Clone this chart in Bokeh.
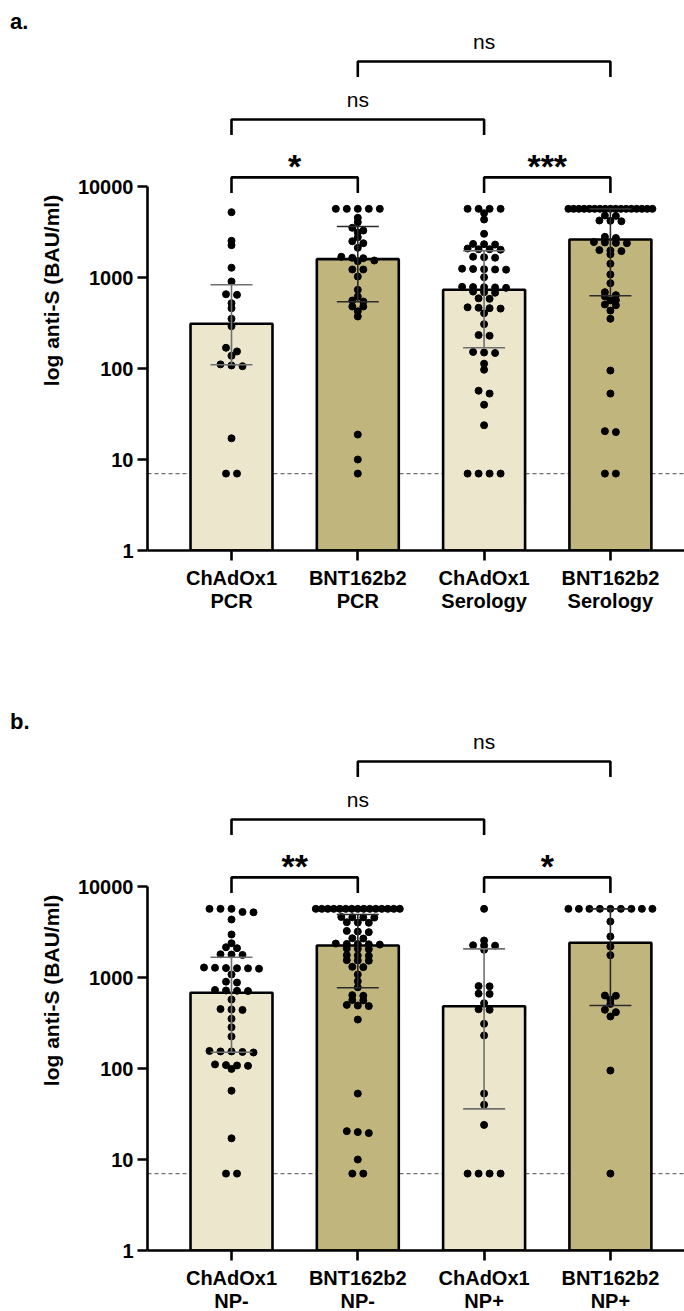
import math
from bokeh.plotting import figure
from bokeh.models import Range1d, FixedTicker, NumeralTickFormatter, Span, Div
from bokeh.layouts import column
from bokeh.core.properties import value
from bokeh.embed import file_html
from bokeh.resources import INLINE

# ---------------- data ----------------
cats_a = ["ChAdOx1\nPCR", "BNT162b2\nPCR", "ChAdOx1\nSerology", "BNT162b2\nSerology"]
cats_b = ["ChAdOx1\nNP-", "BNT162b2\nNP-", "ChAdOx1\nNP+", "BNT162b2\nNP+"]

a_chad_pcr = [5220, 2530, 2265, 1280, 904, 655, 645, 522, 460, 352, 292, 169, 154, 138,
              111, 108, 106, 17.1, 7, 7]
a_bnt_pcr = [5680, 5680, 5680, 5680, 5680, 4530, 4050, 3515, 3280, 3125, 2775, 2505, 2380,
             2120, 1690, 1645, 1630, 1537, 1510, 1225, 1225, 1025, 733, 618, 558, 544, 480,
             480, 426, 373, 18.8, 10, 7]
a_chad_ser = [5680, 5680, 5680, 5680, 5090, 4335, 3020, 2340, 2323, 2300, 2080, 2045, 2045,
              2020, 1690, 1671, 1650, 1250, 1240, 1233, 1225, 1220, 1007, 790, 785, 782, 778,
              770, 700, 690, 680, 590, 583, 470, 465, 460, 455, 405, 307, 233, 229, 152, 150,
              148, 113, 97, 57, 53, 40, 23.8, 7, 7, 7, 7]
a_bnt_ser = [5680, 5680, 5680, 5680, 5680, 5680, 5680, 5680, 5680, 5680, 5680, 5680, 5680,
             5680, 5680, 5680, 5680, 4800, 4750, 4230, 4200, 4150, 2800, 2720, 2450, 2425,
             2400, 2380, 2000, 1980, 1950, 1800, 1415, 1080, 865, 690, 640, 620, 565, 560,
             505, 495, 433, 352, 95, 53, 20.5, 20, 7, 7]

b_chad_neg = [5680, 5680, 5680, 5250, 5200, 4340, 2970, 2380, 2150, 2100, 1800, 1790, 1770,
              1290, 1280, 1270, 1265, 1260, 1250, 1080, 900, 880, 730, 720, 715, 710, 573,
              450, 445, 440, 352, 284, 225, 156, 154, 154, 152, 150, 111, 109, 108, 107, 99,
              57, 17.1, 7, 7]
b_bnt_neg = [5680, 5680, 5680, 5680, 5680, 5680, 5680, 5680, 5680, 5680, 5680, 5680, 5680,
             5680, 5680, 4620, 4590, 4570, 4550, 4050, 4020, 3990, 3250, 3200, 3150, 2700,
             2680, 2360, 2340, 2335, 2320, 2300, 2080, 2065, 2050, 1760, 1745, 1730, 1550,
             1540, 1530, 1310, 1300, 1080, 910, 780, 640, 630, 565, 560, 500, 492, 485, 345,
             53, 20.5, 20, 19.5, 10, 7, 7]
b_chad_pos = [5680, 2550, 2260, 2250, 2240, 2015, 805, 800, 665, 660, 522, 448, 442, 310, 231,
              53, 40, 24, 7, 7, 7, 7]
b_bnt_pos = [5680, 5680, 5680, 5680, 5680, 5680, 5680, 5680, 5680, 4120, 2825, 2190, 1760,
             634, 630, 569, 513, 442, 416, 373, 95, 7]

a_median = [310, 1590, 733, 2617]
a_q1 = [110, 541, 169, 630]
a_q3 = [831, 3630, 1965, 5680]
b_median = [679, 2250, 483, 2405]
b_q1 = [151, 771, 36, 492]
b_q3 = [1670, 4920, 2065, 5680]

sig_pairs = [(0, 1), (2, 3), (0, 2), (1, 3)]
sig_a = ["*", "***", "ns", "ns"]
sig_b = ["**", "*", "ns", "ns"]

lod = 7.0
y_ticks = [1, 10, 100, 1000, 10000]

# ---------------- styling / layout ----------------
W = 684
HEAD_H = 30
PX_DEC = 91.0
PX_CAT = 126.3
FRAME_W = 537
FRAME_H = 520
LEFT = 147
FONT = "Liberation Sans"
LIGHT = "#ECE6CC"
DARK = "#C1B57E"
fills = [LIGHT, DARK, LIGHT, DARK]
err_cols = ["#707070", "#2b2b2b", "#707070", "#2b2b2b"]


def swarm(vals, xc):
    arr = sorted(vals, reverse=True)
    py = [math.log10(v) * PX_DEC for v in arr]
    xs, ys = [], []
    i, n = 0, len(arr)
    while i < n:
        j = i
        while j + 1 < n and py[i] - py[j + 1] < 4.0:
            j += 1
        row = arr[i:j + 1]
        m = len(row)
        sp = min(11.0, 84.0 / (m - 1)) if m > 1 else 0.0
        for k, v in enumerate(row):
            xs.append(xc + (k - (m - 1) / 2.0) * sp / PX_CAT)
            ys.append(v)
        i = j + 1
    return xs, ys


def header(tag):
    return Div(text="<span style='position:relative; left:10px; top:7px'>%s</span>" % tag,
               width=W, height=HEAD_H, margin=(0, 0, 0, 0),
               styles={"font-family": "'Liberation Sans', Arial, sans-serif",
                       "font-weight": "bold", "font-size": "22px",
                       "line-height": "30px", "color": "black", "overflow": "visible"})


def panel(cats, groups, med, q1, q3, sig, bottom):
    x0 = -(231 - LEFT) / PX_CAT
    p = figure(frame_width=FRAME_W, frame_height=FRAME_H,
               x_range=Range1d(x0, x0 + FRAME_W / PX_CAT),
               y_range=Range1d(1, 10 ** (FRAME_H / PX_DEC)),
               y_axis_type="log", output_backend="svg", toolbar_location=None,
               min_border_left=LEFT, min_border_right=0, min_border_top=0,
               min_border_bottom=bottom, margin=(0, 0, 0, 0))
    p.outline_line_color = None
    p.xgrid.visible = False
    p.ygrid.visible = False
    p.background_fill_color = "white"

    xs = list(range(len(cats)))

    # detection limit line
    p.add_layout(Span(location=lod, dimension="width", line_color="#707070",
                      line_dash="4 3", line_width=1.3, level="underlay"))

    # bars
    p.vbar(x=xs, top=med, bottom=1, width=0.649, fill_color=fills,
           line_color="black", line_width=2.6)

    # dots
    for i, vals in enumerate(groups):
        dx, dy = swarm(vals, i)
        p.scatter(dx, dy, size=7, color="black")

    # error bars (IQR)
    cw = 21.0 / PX_CAT
    for i in xs:
        p.segment(x0=[i], y0=[q1[i]], x1=[i], y1=[q3[i]], line_color=err_cols[i], line_width=1.6)
        p.segment(x0=[i - cw, i - cw], y0=[q1[i], q3[i]], x1=[i + cw, i + cw],
                  y1=[q1[i], q3[i]], line_color=err_cols[i], line_width=1.6)

    # significance brackets
    base = math.log10(y_ticks[-1]) + 0.10
    step = 0.637
    lvls = [base, base, base + step, base + 2 * step]
    drop = 0.171
    bx, by = [], []
    for (a, b), L in zip(sig_pairs, lvls):
        bx.append([a, a, b, b])
        by.append([10 ** (L - drop), 10 ** L, 10 ** L, 10 ** (L - drop)])
    p.multi_line(bx, by, line_color="black", line_width=2.6)
    for (a, b), L, s in zip(sig_pairs, lvls, sig):
        if s == "ns":
            p.text(x=[(a + b) / 2], y=[10 ** (L + 0.215)], text=[s], text_align="center",
                   text_baseline="middle", text_font=value(FONT),
                   text_font_size="21px", text_color="black")
        else:
            p.text(x=[(a + b) / 2], y=[10 ** (L + 0.13)], text=[s], text_align="center",
                   text_baseline="middle", text_font=value(FONT),
                   text_font_size="34px", text_font_style="bold", text_color="black")

    # axes
    ya = p.yaxis[0]
    ya.ticker = FixedTicker(ticks=y_ticks)
    ya.formatter = NumeralTickFormatter(format="0")
    ya.bounds = (y_ticks[0], y_ticks[-1])
    ya.axis_label = "log anti-S (BAU/ml)"
    ya.axis_label_text_font = FONT
    ya.axis_label_text_font_style = "bold"
    ya.axis_label_text_font_size = "21px"
    ya.axis_label_text_color = "black"
    ya.axis_label_standoff = 12

    xa = p.xaxis[0]
    xa.ticker = FixedTicker(ticks=xs)
    xa.major_label_overrides = {i: c for i, c in enumerate(cats)}

    for ax in (xa, ya):
        ax.axis_line_width = 2.6
        ax.axis_line_color = "black"
        ax.major_tick_line_width = 2.6
        ax.major_tick_line_color = "black"
        ax.major_tick_out = 10
        ax.major_tick_in = 0
        ax.minor_tick_line_color = None
        ax.major_label_text_font = FONT
        ax.major_label_text_font_style = "bold"
        ax.major_label_text_font_size = "20px"
        ax.major_label_text_color = "black"
    ya.major_label_standoff = 4
    xa.major_label_standoff = 6
    xa.major_label_text_line_height = 1.05
    return p


ha = header("a.")
pa = panel(cats_a, [a_chad_pcr, a_bnt_pcr, a_chad_ser, a_bnt_ser],
           a_median, a_q1, a_q3, sig_a, 150)
hb = header("b.")
pb = panel(cats_b, [b_chad_neg, b_bnt_neg, b_chad_pos, b_bnt_pos],
           b_median, b_q1, b_q3, sig_b, 61)

layout = column(ha, pa, hb, pb, spacing=0, margin=(0, 0, 0, 0))
open("out.html", "w").write(file_html(layout, INLINE))
